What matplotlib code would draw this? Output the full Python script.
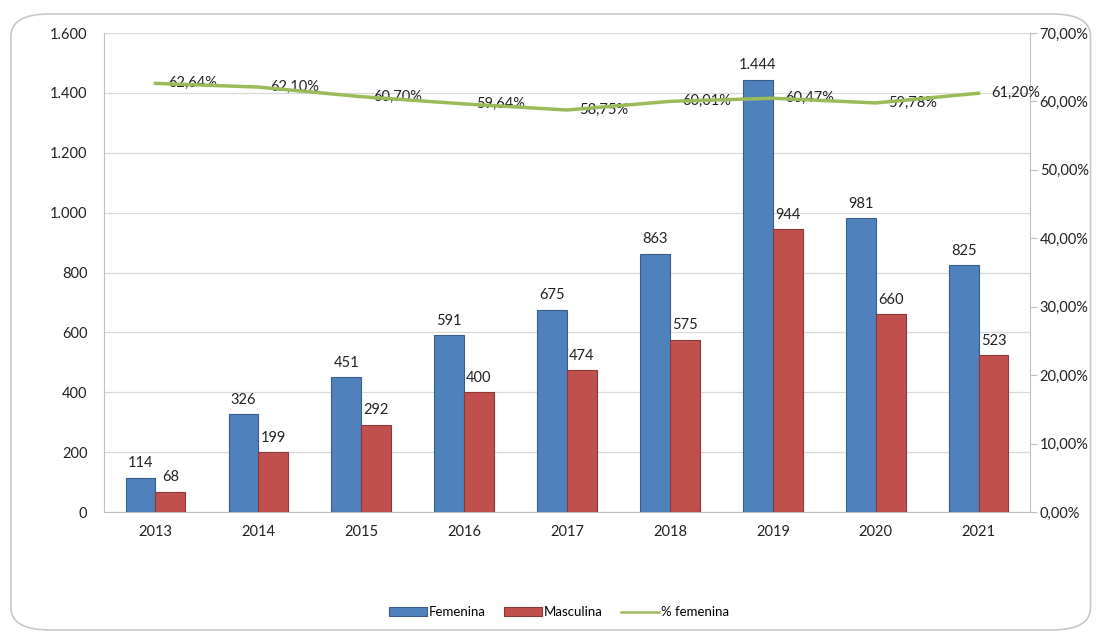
import matplotlib
matplotlib.use("Agg")
import matplotlib.pyplot as plt
from matplotlib.patches import FancyBboxPatch
from matplotlib.ticker import FuncFormatter, MultipleLocator
import numpy as np

plt.rcParams['font.family'] = ['Lato', 'DejaVu Sans']

years = ["2013", "2014", "2015", "2016", "2017", "2018", "2019", "2020", "2021"]
femenina = [114, 326, 451, 591, 675, 863, 1444, 981, 825]
masculina = [68, 199, 292, 400, 474, 575, 944, 660, 523]
pct_femenina = [62.64, 62.10, 60.70, 59.64, 58.75, 60.01, 60.47, 59.78, 61.20]

def thou(v):
    return f"{int(v):,}".replace(",", ".")

fig = plt.figure(figsize=(10.96, 6.35), dpi=100)
fig.patch.set_facecolor("white")
border = FancyBboxPatch((0.010, 0.008), 0.985, 0.970, boxstyle="round,pad=0,rounding_size=0.035",
                        transform=fig.transFigure, facecolor="none", edgecolor="#c8c8c8", lw=1.2)
fig.patches.append(border)

ax = fig.add_axes([0.0949, 0.1937, 0.8449, 0.7543])
x = np.arange(len(years))
w = 0.29
b1 = ax.bar(x - w/2, femenina, w, color="#4F81BD", edgecolor="#385D8A", lw=0.8, label="Femenina", zorder=3)
b2 = ax.bar(x + w/2, masculina, w, color="#C0504D", edgecolor="#8C3836", lw=0.8, label="Masculina", zorder=3)
for xi, v in zip(x, femenina):
    ax.text(xi - w/2, v + 25, thou(v), ha="center", va="bottom", fontsize=10.5, color="#222222")
for xi, v in zip(x, masculina):
    ax.text(xi + w/2, v + 25, thou(v), ha="center", va="bottom", fontsize=10.5, color="#222222")

ax.set_xlim(-0.5, len(years) - 0.5)
ax.set_ylim(0, 1600)
ax.yaxis.set_major_locator(MultipleLocator(200))
ax.yaxis.set_major_formatter(FuncFormatter(lambda v, p: thou(v)))
ax.set_xticks(x)
ax.set_xticklabels(years)
ax.tick_params(axis="both", labelsize=10.5, colors="#222222", length=0)
ax.tick_params(axis="y", pad=12)
ax.tick_params(axis="x", pad=9)
ax.grid(axis="y", color="#d9d9d9", lw=0.9, zorder=0)
for s in ["top", "right"]:
    ax.spines[s].set_visible(False)
ax.spines["left"].set_color("#bfbfbf")
ax.spines["bottom"].set_color("#bfbfbf")

ax2 = ax.twinx()
ax2.set_ylim(0, 70)
ax2.yaxis.set_major_locator(MultipleLocator(10))
ax2.yaxis.set_major_formatter(FuncFormatter(lambda v, p: f"{v:.2f}%".replace(".", ",")))
ln, = ax2.plot(x, pct_femenina, color="#9BBB59", lw=2.5, label="% femenina", zorder=4)
for xi, v in zip(x, pct_femenina):
    ax2.text(xi + 0.12, v, f"{v:.2f}%".replace(".", ","), ha="left", va="center", fontsize=10.5, color="#222222")
ax2.tick_params(axis="y", labelsize=10.5, colors="#222222", length=5, direction="out", pad=2)
ax2.tick_params(axis="y", color="#bfbfbf")
for s in ["top", "left", "bottom"]:
    ax2.spines[s].set_visible(False)
ax2.spines["right"].set_color("#bfbfbf")

handles = [b1, b2, ln]
leg = fig.legend(handles, ["Femenina", "Masculina", "% femenina"], loc="center", bbox_to_anchor=(0.51, 0.036),
                 ncol=3, frameon=False, fontsize=9.5, handlelength=2.9, handleheight=0.6, columnspacing=1.4,
                 handletextpad=0.1)
leg.get_lines()[0].set_linewidth(1.8) if leg.get_lines() else None

fig.savefig("out.png", dpi=100)
